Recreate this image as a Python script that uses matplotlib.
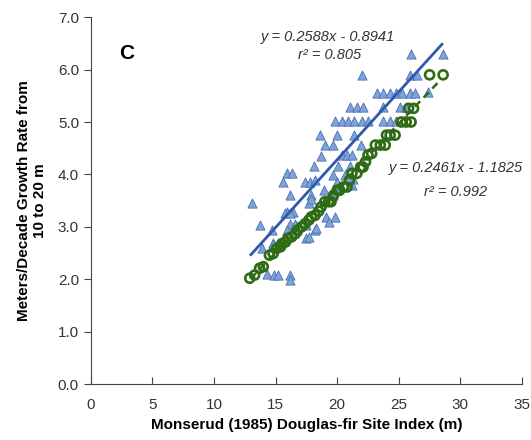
import matplotlib
matplotlib.use("Agg")
import matplotlib.pyplot as plt
import numpy as np

plt.rcParams["font.family"] = ["Liberation Sans", "DejaVu Sans"]

# blue triangles: observed growth rate vs site index
tri_x = [26.0, 28.6, 22.0, 25.9, 26.5,
         23.2, 23.7, 24.3, 24.8, 25.3, 25.9, 26.3, 27.4,
         21.0, 21.6, 22.1, 23.7, 25.1, 25.6,
         19.8, 20.4, 20.9, 21.4, 22.0, 22.5, 23.7, 24.3, 24.8,
         18.6, 20.0, 21.4,
         19.0, 19.7, 21.9,
         18.7, 20.4, 20.8, 21.2,
         18.1, 20.1, 21.0,
         15.9, 16.3, 19.7, 20.6,
         15.6, 17.4, 17.8, 18.2, 20.0, 21.3,
         18.9, 20.0, 21.2,
         16.2, 17.9, 19.7,
         13.1, 17.7, 17.9,
         15.9, 16.4, 15.8, 16.2,
         19.1, 19.8, 19.3,
         13.7, 16.2, 16.6, 17.5,
         14.7, 15.9, 16.7, 18.2, 18.3,
         14.8, 17.5, 17.7,
         13.9, 14.8,
         14.3, 14.9, 15.2, 16.2, 16.2]
tri_y = [6.29, 6.29, 5.90, 5.90, 5.90,
         5.56, 5.56, 5.56, 5.56, 5.56, 5.56, 5.56, 5.57,
         5.28, 5.28, 5.28, 5.28, 5.28, 5.28,
         5.02, 5.02, 5.02, 5.02, 5.02, 5.02, 5.02, 5.02, 5.02,
         4.76, 4.76, 4.76,
         4.57, 4.57, 4.57,
         4.35, 4.37, 4.37, 4.37,
         4.17, 4.17, 4.17,
         4.02, 4.02, 3.99, 3.99,
         3.86, 3.86, 3.86, 3.89, 3.86, 3.92,
         3.70, 3.70, 3.80,
         3.60, 3.60, 3.60,
         3.45, 3.45, 3.54,
         3.29, 3.29, 3.26, 3.26,
         3.19, 3.19, 3.10,
         3.03, 3.06, 3.06, 3.03,
         2.94, 2.94, 2.94, 2.94, 2.97,
         2.70, 2.78, 2.81,
         2.60, 2.68,
         2.11, 2.08, 2.08, 2.08, 1.98]

# green circles: predicted growth rate vs site index
circ_x = [12.9, 13.3, 13.7, 14.0, 14.5, 14.8, 15.1, 15.4, 15.5, 15.8,
          16.0, 16.3, 16.6, 16.8, 17.1, 17.4, 17.7, 17.9, 18.2, 18.5,
          18.7, 19.0, 19.3, 19.5, 19.7, 20.0, 20.2, 20.5, 20.8, 21.0,
          21.2, 21.6, 21.9, 22.1, 22.3, 22.5, 22.8, 23.1, 23.5, 23.9,
          24.0, 24.3, 24.7, 25.2, 25.6, 26.0, 25.8, 26.2, 27.5, 28.6]
circ_y = [2.02, 2.08, 2.21, 2.24, 2.46, 2.49, 2.59, 2.62, 2.68, 2.71,
          2.78, 2.81, 2.87, 2.94, 3.00, 3.06, 3.13, 3.19, 3.22, 3.30,
          3.38, 3.48, 3.48, 3.48, 3.60, 3.70, 3.70, 3.76, 3.76, 3.89,
          4.02, 4.02, 4.14, 4.14, 4.24, 4.37, 4.40, 4.56, 4.56, 4.56,
          4.75, 4.75, 4.75, 5.00, 5.00, 5.00, 5.26, 5.26, 5.90, 5.90]

blue_fit = (0.2588, -0.8941)
green_fit = (0.2461, -1.1825)

blue_face = "#7fa3d9"
blue_edge = "#4a6fb5"
blue_line = "#2f59ad"
green = "#2f6a14"

fig = plt.figure(figsize=(5.31, 4.40), dpi=100)
ax = fig.add_axes([0.171, 0.127, 0.812, 0.834])

ax.scatter(tri_x, tri_y, marker="^", s=44, facecolor=blue_face,
           edgecolor=blue_edge, linewidth=0.6, zorder=2)

xs = np.array([13.0, 28.5])
ax.plot(xs, blue_fit[0] * xs + blue_fit[1], color=blue_line, lw=2, zorder=3)

ax.scatter(circ_x, circ_y, marker="o", s=42, facecolor="none",
           edgecolor=green, linewidth=1.9, zorder=4)
ax.plot(xs, green_fit[0] * xs + green_fit[1], color=green, lw=1.8,
        ls=(0, (3, 2)), zorder=4)

ax.set_xlim(0, 35)
ax.set_ylim(0, 7)
ax.set_xticks(np.arange(0, 36, 5))
ax.set_yticks(np.arange(0, 7.1, 1))
ax.set_yticklabels([f"{v:.1f}" for v in np.arange(0, 7.1, 1)])
ax.spines["top"].set_visible(False)
ax.spines["right"].set_visible(False)
for s in ["left", "bottom"]:
    ax.spines[s].set_color("#444444")
ax.tick_params(axis="x", direction="in", length=5, color="#444444",
               labelsize=11, pad=10, labelcolor="#333333")
ax.tick_params(axis="y", direction="out", length=5, color="#444444",
               labelsize=11, labelcolor="#333333")

ax.set_xlabel("Monserud (1985) Douglas-fir Site Index (m)",
              fontsize=11, fontweight="bold", labelpad=4)
ax.set_ylabel("Meters/Decade Growth Rate from\n10 to 20 m",
              fontsize=11, fontweight="bold", labelpad=8)

ax.text(2.9, 6.3, "C", fontsize=15, fontweight="bold", ha="center", va="center")
ax.text(19.25, 6.62, "y = 0.2588x - 0.8941", fontsize=10.5, style="italic",
        ha="center", va="center", color="#333333")
ax.text(19.35, 6.27, "r² = 0.805", fontsize=10.5, style="italic",
        ha="center", va="center", color="#333333")
ax.text(29.65, 4.12, "y = 0.2461x - 1.1825", fontsize=10.5, style="italic",
        ha="center", va="center", color="#333333")
ax.text(29.6, 3.66, "r² = 0.992", fontsize=10.5, style="italic",
        ha="center", va="center", color="#333333")

fig.savefig("out.png", dpi=100)
